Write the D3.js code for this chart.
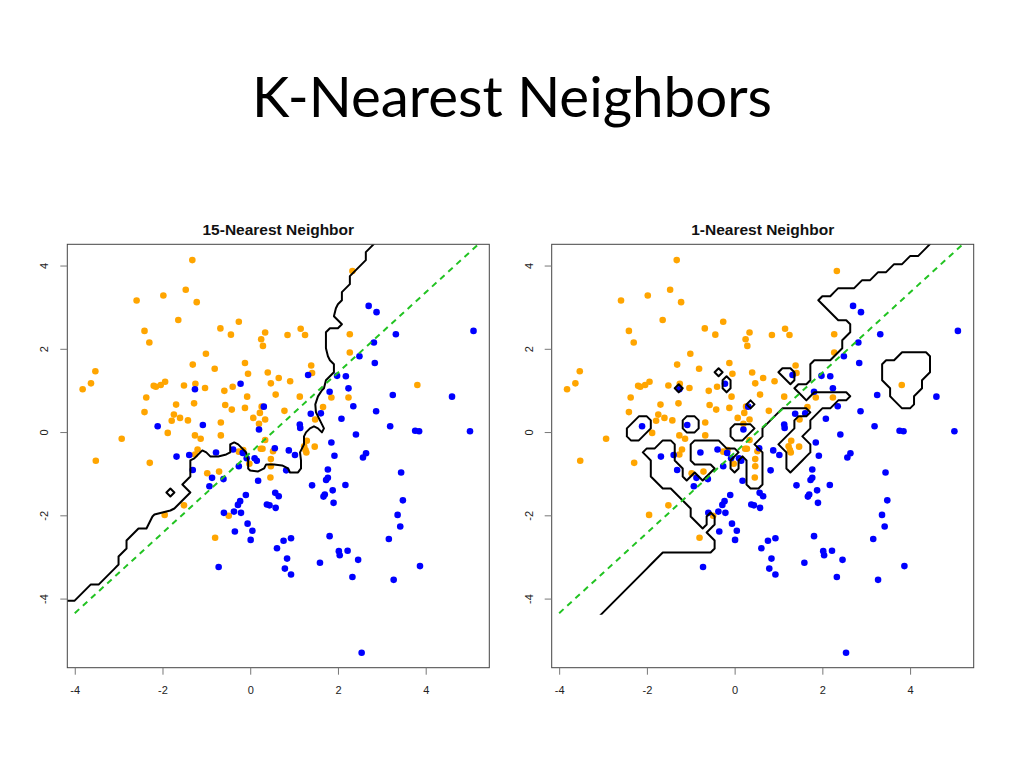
<!DOCTYPE html>
<html><head><meta charset="utf-8">
<script src="https://cdn.jsdelivr.net/npm/d3@7"></script>
<style>body{margin:0;background:#fff}</style>
</head><body>
<svg id="chart" width="1024" height="768"></svg>
<script>
// ---------------- data ----------------
const mainTitle = "K-Nearest Neighbors";
const panelTitles = ["15-Nearest Neighbor", "1-Nearest Neighbor"];
const kValues = [15, 1];
const xTicks = [-4, -2, 0, 2, 4];
const yTicks = [-4, -2, 0, 2, 4];
const xLim = [-4.17, 5.45];
const yLim = [-5.66, 4.51];
const boundaryFloor = [-5.66, -4.39];

const orangeX = [-1.32,-1.47,-2.59,-1.98,-1.22,-1.64,-2.41,-2.30,-0.68,-0.44,
  -0.26,0.34,0.25,0.29,-1.01,-1.31,-0.81,-0.12,-0.05,0.40,
  0.65,0.47,0.58,-3.53,-3.63,-3.82,-2.20,-2.15,-2.04,-1.94,
  -2.37,-2.41,-1.51,-1.25,-1.03,-0.59,-0.40,-1.69,-1.28,-0.57,
  -0.42,-0.12,-1.74,-1.60,-1.79,-1.42,-0.67,0.07,0.22,0.26,
  0.34,0.20,-1.88,-1.26,-1.13,-0.67,-2.93,0.34,-0.07,0.91,
  1.39,1.41,1.85,1.66,1.48,1.13,0.78,0.24,0.28,0.52,
  0.47,0.47,0.46,1.29,1.23,1.26,1.28,1.47,-0.02,-0.16,
  -0.26,-1.20,-1.26,-0.98,-0.71,-3.52,-2.29,-1.51,-1.95,-0.80,
  -0.49,2.33,0.85,1.15,1.25,2.27,2.27,2.24,3.81];
const orangeY = [4.13,3.42,3.16,3.28,3.12,2.69,2.43,2.15,2.49,2.34,
  2.65,2.39,2.23,2.07,1.88,1.62,1.52,1.66,1.40,1.43,
  1.30,1.17,0.90,1.46,1.17,1.03,1.11,1.09,1.13,1.21,
  0.83,0.48,1.12,1.16,1.06,0.99,1.09,0.66,0.69,0.65,
  0.54,0.58,0.42,0.34,0.27,0.28,0.23,0.34,0.46,0.61,
  0.30,0.20,-0.02,-0.08,-0.16,-0.08,-0.16,-0.19,0.85,1.22,
  1.60,1.42,0.83,0.60,0.30,0.85,0.51,-0.40,-0.40,-0.46,
  -0.65,-0.82,-1.09,-0.21,-0.34,-0.43,-0.49,-0.35,-0.76,-0.43,
  -0.47,-0.42,-0.54,-0.99,-0.95,-0.69,-0.74,-1.76,-1.99,-2.54,
  -2.01,3.87,2.33,2.48,2.33,2.35,1.91,0.83,1.13];

const blueX = [-1.26,-0.22,0.31,-2.11,-1.08,0.20,0.56,1.32,1.98,1.81,
  1.38,1.61,1.13,1.14,1.85,1.92,0.88,1.02,0.82,1.77,
  1.77,1.73,1.88,1.70,1.67,1.41,0.57,0.65,0.18,-0.10,
  0.10,0.15,-0.08,-0.26,-0.17,-0.39,-0.78,-1.39,-1.68,-1.31,
  -0.87,-0.61,-0.93,-0.72,-0.60,-0.37,-0.21,-0.28,-0.23,-0.06,
  -0.35,0.05,0.01,0.61,0.38,0.44,0.58,1.90,2.17,2.57,
  2.64,3.44,3.48,3.36,3.42,3.16,3.87,3.27,2.54,2.33,
  2.46,2.22,2.02,2.04,1.81,1.59,0.93,0.76,0.84,0.79,
  0.93,2.70,2.88,5.09,3.32,2.82,2.49,2.84,2.18,2.24,
  3.25,4.60,2.35,2.87,2.08,3.19,3.76,3.85,5.01,2.41];
const blueY = [1.03,1.16,0.61,0.14,0.17,0.06,-0.39,1.37,1.35,0.97,
  0.44,0.45,0.18,0.10,-0.25,-0.57,-0.44,-0.55,-0.92,-0.90,
  -1.10,-1.15,-1.40,-1.50,-1.55,-1.28,-1.46,-1.54,-1.17,-1.51,
  -0.63,-0.69,-0.63,-0.82,-0.50,-0.42,-0.49,-0.55,-0.59,-0.91,
  -1.10,-1.13,-1.30,-3.24,-1.94,-1.91,-1.94,-1.75,-1.66,-2.20,
  -2.39,-2.37,-2.59,-2.79,-1.74,-1.76,-1.82,-1.70,-1.27,-0.61,
  -0.51,-0.97,-1.64,-1.99,-2.27,-2.57,-3.22,-3.55,-5.30,-3.48,
  -3.07,-2.85,-2.86,-2.96,-2.50,-3.14,-2.55,-2.61,-3.04,-3.28,
  -3.42,3.03,2.88,2.43,2.35,2.15,1.82,1.66,1.34,1.05,
  0.89,0.85,0.62,0.50,0.32,0.14,0.03,0.02,0.02,-0.06];

const bayesX = [-4.0, 5.2];
const bayesY = [-4.35, 4.51];

// ---------------- layout / style ----------------
const W = 1024, H = 768;
const panelLeft = [67.3, 551.7];
const plotW = 422, plotTop = 244.3, plotBottom = 667.7;
const orangeCol = "#FFA500", blueCol = "#0000FF";
const fontR = "'Liberation Sans', Arial, sans-serif";

const svg = d3.select("#chart");
svg.append("rect").attr("width", W).attr("height", H).attr("fill", "#fff");

// main title, fitted to the reference width
const tt = svg.append("text").attr("x", 512).attr("y", 117)
  .attr("text-anchor", "middle")
  .style("font-family", "Lato, 'Open Sans', sans-serif")
  .style("font-size", "55px").attr("fill", "#000").text(mainTitle);
const tw = tt.node().getComputedTextLength();
tt.style("font-size", (55 * 520 / tw).toFixed(2) + "px");

// points
const pts = [];
orangeX.forEach((x, i) => pts.push({x, y: orangeY[i], c: 0}));
blueX.forEach((x, i) => pts.push({x, y: blueY[i], c: 1}));

// KNN classification grid (coarse, like the original's 50-point grid)
const xMin = d3.min(pts, d => d.x), xMax = d3.max(pts, d => d.x);
const yMin = d3.min(pts, d => d.y), yMax = d3.max(pts, d => d.y);
const sx = (xMax - xMin) / 49, sy = (yMax - yMin) / 49;
const G = {x0: xMin - 8 * sx, y0: yMin - 8 * sy, sx, sy, nx: 66, ny: 66};
function knnValues(k) {
  const v = new Float64Array(G.nx * G.ny);
  const bd = new Float64Array(k), bc = new Float64Array(k);
  for (let j = 0; j < G.ny; j++) {
    const gy = G.y0 + j * G.sy;
    for (let i = 0; i < G.nx; i++) {
      const gx = G.x0 + i * G.sx;
      bd.fill(Infinity); bc.fill(0);
      for (const p of pts) {
        const dx = p.x - gx, dy = p.y - gy, dd = dx * dx + dy * dy;
        if (dd < bd[k - 1]) {
          let m = k - 1;
          while (m > 0 && bd[m - 1] > dd) { bd[m] = bd[m - 1]; bc[m] = bc[m - 1]; m--; }
          bd[m] = dd; bc[m] = p.c;
        }
      }
      let s = 0; for (let m = 0; m < k; m++) s += bc[m];
      v[j * G.nx + i] = s / k;
    }
  }
  return v;
}

panelTitles.forEach((title, pi) => {
  const L = panelLeft[pi];
  const xs = d3.scaleLinear().domain(xLim).range([L, L + plotW]);
  const ys = d3.scaleLinear().domain(yLim).range([plotBottom, plotTop]);
  const g = svg.append("g");

  const clipId = "clip" + pi;
  svg.append("clipPath").attr("id", clipId).append("rect")
    .attr("x", L).attr("y", plotTop).attr("width", plotW)
    .attr("height", ys(boundaryFloor[pi]) - plotTop);
  const clipAll = "clipall" + pi;
  svg.append("clipPath").attr("id", clipAll).append("rect")
    .attr("x", L).attr("y", plotTop).attr("width", plotW)
    .attr("height", plotBottom - plotTop);

  // points
  g.append("g").selectAll("circle").data(pts).join("circle")
    .attr("cx", d => xs(d.x)).attr("cy", d => ys(d.y)).attr("r", 3.3)
    .attr("fill", d => d.c ? blueCol : orangeCol);

  // decision boundary
  const vals = knnValues(kValues[pi]);
  const cont = d3.contours().size([G.nx, G.ny]).thresholds([0.5])(vals)[0];
  const proj = d3.geoTransform({point(x, y) {
    this.stream.point(xs(G.x0 + (x - 0.5) * G.sx), ys(G.y0 + (y - 0.5) * G.sy));
  }});
  g.append("path").attr("d", d3.geoPath(proj)(cont))
    .attr("fill", "none").attr("stroke", "#000").attr("stroke-width", 2)
    .attr("stroke-linejoin", "round")
    .attr("clip-path", `url(#${clipId})`);

  // Bayes line
  g.append("path")
    .attr("d", d3.line().x(d => xs(d[0])).y(d => ys(d[1]))(bayesX.map((x, i) => [x, bayesY[i]])))
    .attr("fill", "none").attr("stroke", "#22c322").attr("stroke-width", 2)
    .attr("stroke-dasharray", "6,5").attr("clip-path", `url(#${clipAll})`);

  // box
  g.append("rect").attr("x", L).attr("y", plotTop).attr("width", plotW)
    .attr("height", plotBottom - plotTop).attr("fill", "none")
    .attr("stroke", "#444").attr("stroke-width", 1);

  // axes
  const ax = g.append("g").attr("transform", `translate(0,${plotBottom})`)
    .call(d3.axisBottom(xs).tickValues(xTicks).tickFormat(d => String(d)).tickSize(7).tickPadding(12).tickSizeOuter(0));
  ax.select(".domain").remove();
  ax.selectAll("line").attr("stroke", "#777");
  ax.selectAll("text").style("font-family", fontR).style("font-size", "11px").attr("fill", "#222");

  const ay = g.append("g").attr("transform", `translate(${L},0)`)
    .call(d3.axisLeft(ys).tickValues(yTicks).tickFormat(d => String(d)).tickSize(7).tickSizeOuter(0));
  ay.select(".domain").remove();
  ay.selectAll("line").attr("stroke", "#777");
  ay.selectAll("text").attr("x", 0).attr("y", 0).attr("dy", "0.35em")
    .attr("text-anchor", "middle")
    .attr("transform", "translate(-23,0) rotate(-90)")
    .style("font-family", fontR).style("font-size", "11px").attr("fill", "#222");

  // panel title
  g.append("text").attr("x", L + plotW / 2).attr("y", 235)
    .attr("text-anchor", "middle").style("font-family", fontR)
    .style("font-weight", "bold").style("font-size", "15.5px").attr("fill", "#111")
    .text(title);
});
</script>
</body></html>
